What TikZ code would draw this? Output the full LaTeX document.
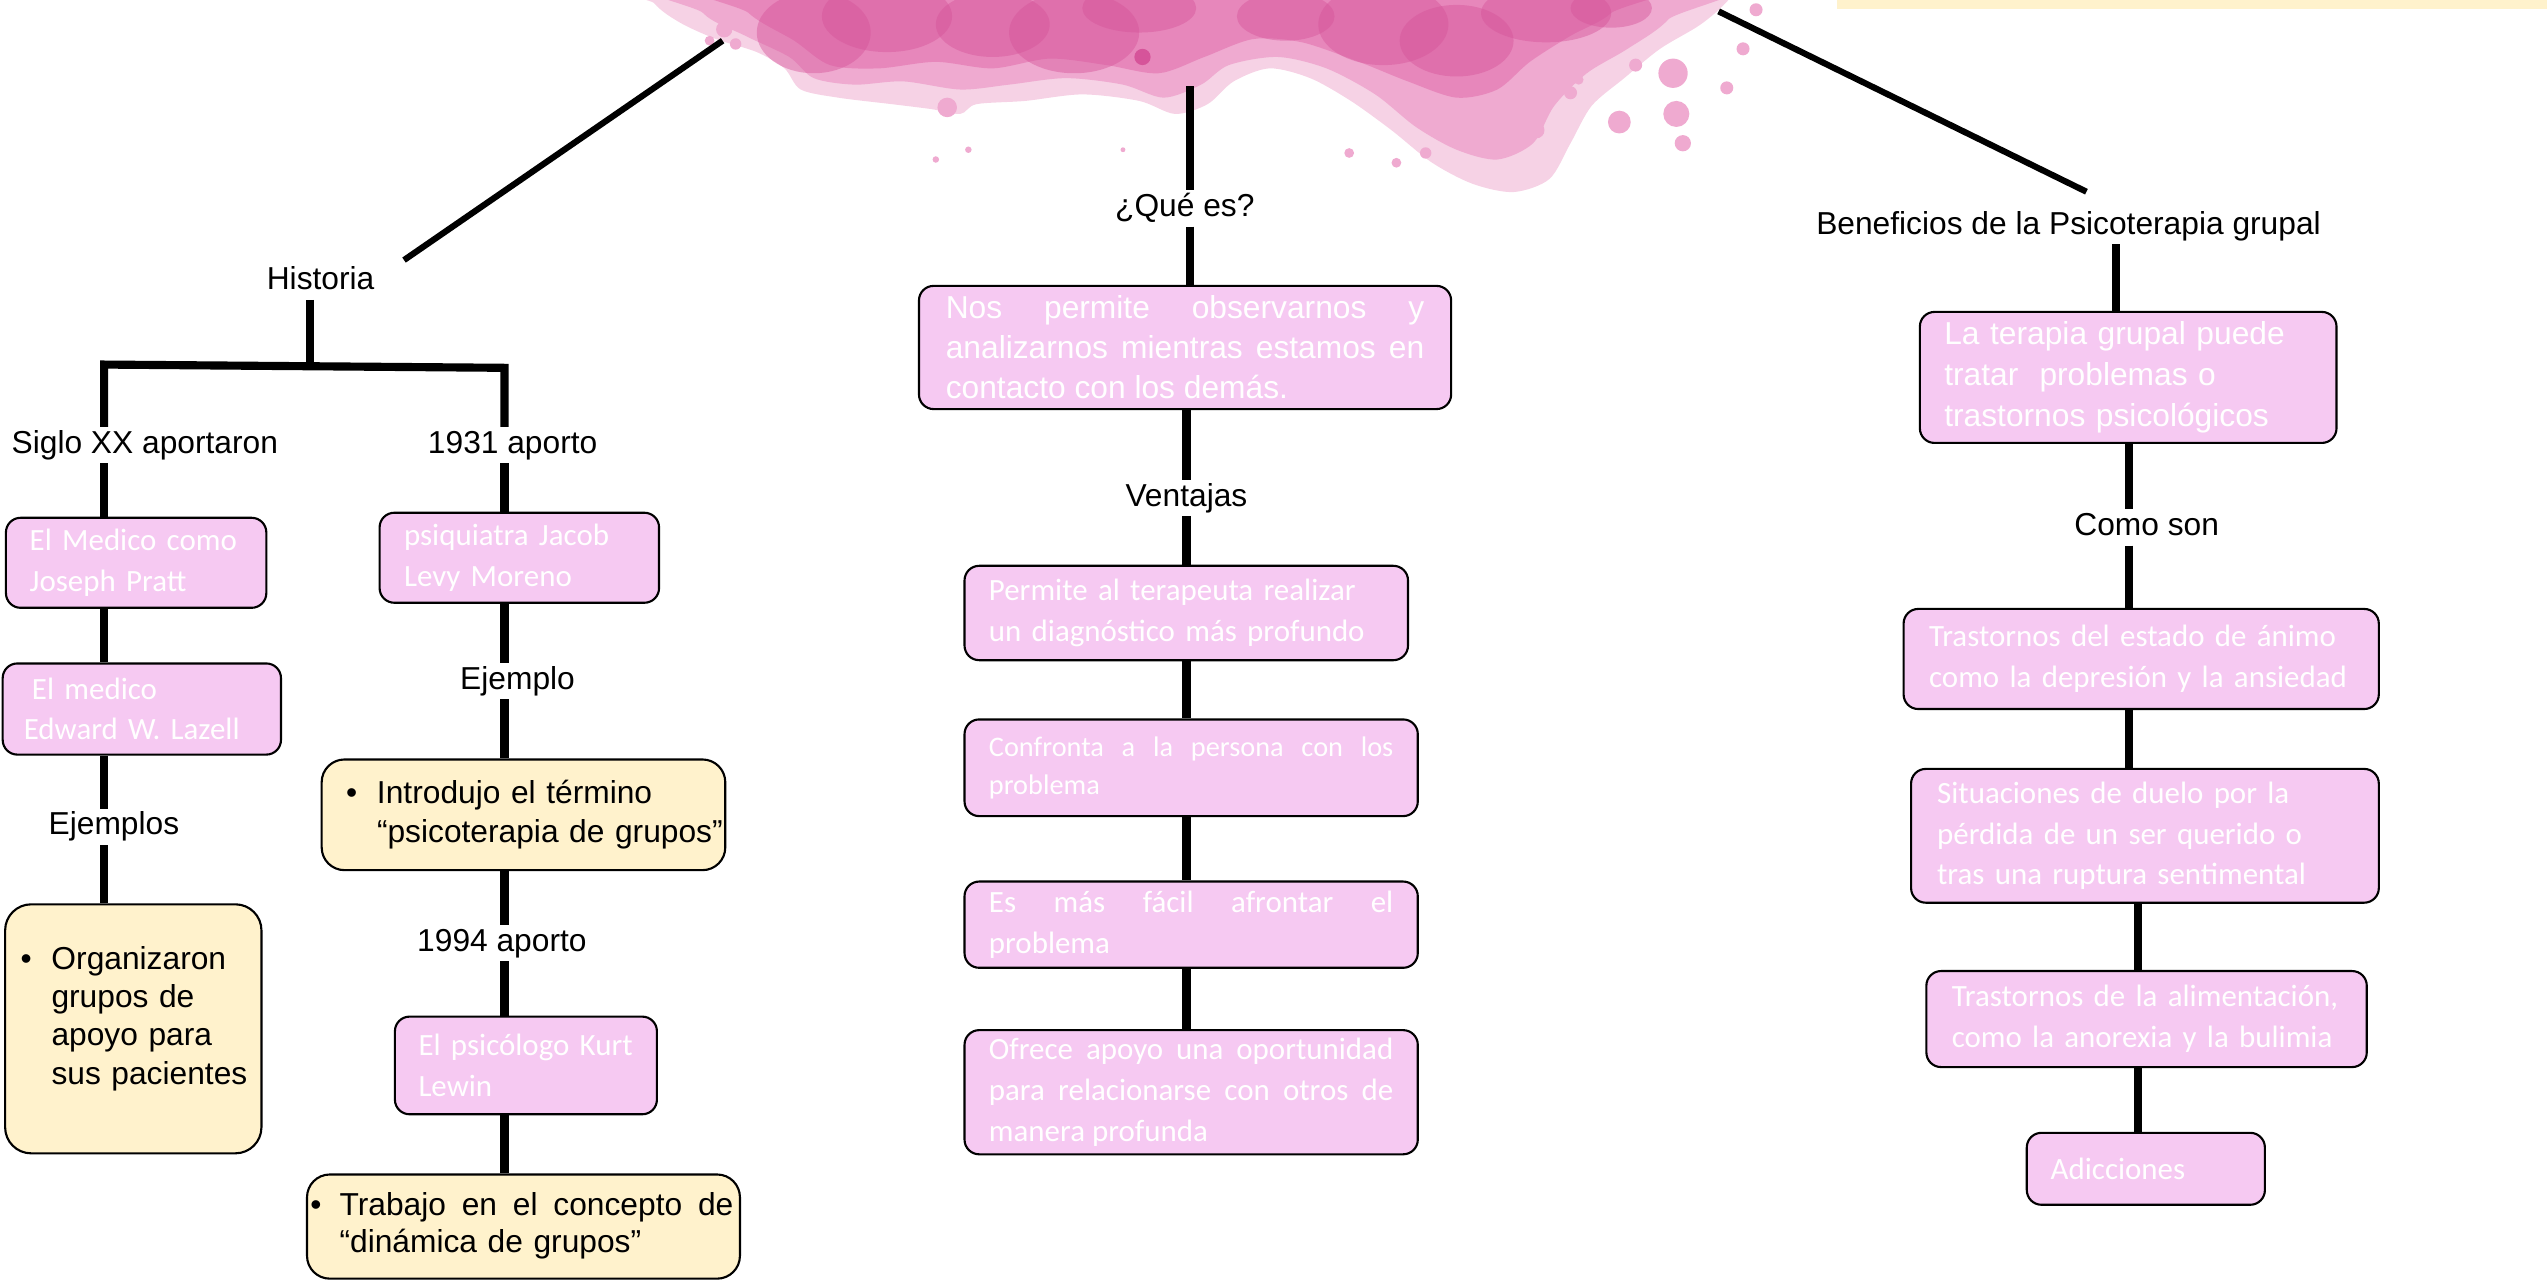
\documentclass[tikz,border=0pt]{standalone}
\usepackage{fontspec}
\setmainfont{Liberation Sans}
\newfontfamily\calib{Carlito}
\definecolor{boxpink}{RGB}{246,201,242}
\definecolor{boxyellow}{RGB}{255,242,204}
\definecolor{blotpale}{RGB}{246,210,229}
\definecolor{blotlight}{RGB}{239,170,208}
\definecolor{blotmid}{RGB}{230,130,184}
\definecolor{blotdark}{RGB}{214,84,154}
\tolerance=10000 \hyphenpenalty=10000 \hbadness=10000
\begin{document}
\begin{tikzpicture}[x=1pt, y=-1pt,
	lbl/.style={font=\fontsize{19.5}{25}\selectfont, anchor=base, inner sep=2pt, text height=14pt, text depth=4pt},
	pbox/.style={draw, line width=1.3pt, fill=boxpink, rounded corners=9pt, text=white, anchor=north west, inner ysep=0pt, align=left, font=\calib\fontsize{19}{25}\selectfont},
	ybox/.style={draw, line width=1.3pt, fill=boxyellow, rounded corners=14pt, anchor=north west, inner ysep=0pt, align=left, font=\fontsize{19.5}{23.5}\selectfont},
	conn/.style={line width=5pt},
	diag/.style={line width=3.8pt}]
	\useasboundingbox (0,0) rectangle (1565,788);
	% mancha rosa
	\begin{scope}
		\clip (0,0) rectangle (1565,788);
		\fill[blotpale] plot[smooth cycle] coordinates {(390,-20) (402,2) (418,14) (440,24) (465,32) (482,42) (492,55) (515,60) (548,64) (572,67) (590,70) (600,64) (630,62) (665,58) (700,62) (722,70) (742,64) (758,50) (780,42) (805,48) (830,62) (855,80) (880,100) (905,113) (930,118) (952,110) (965,88) (978,65) (998,48) (1020,30) (1045,15) (1062,0) (1075,-20)};
		\fill[blotlight] plot[smooth cycle] coordinates {(420,-20) (432,8) (458,22) (485,35) (500,48) (525,52) (555,50) (590,55) (620,52) (655,48) (690,52) (715,60) (738,52) (755,40) (785,35) (815,42) (845,58) (870,78) (895,92) (920,98) (942,88) (955,65) (975,45) (1000,30) (1025,12) (1045,-20)};
		\fill[blotmid, fill opacity=0.85] plot[smooth cycle] coordinates {(440,-20) (460,8) (488,25) (510,40) (540,42) (575,38) (610,42) (645,36) (680,40) (712,45) (740,35) (770,24) (800,26) (835,38) (865,50) (895,60) (920,55) (940,38) (965,22) (990,8) (1010,-20)};
		\foreach \x/\y/\rx/\ry in {500/20/35/25, 545/10/40/22, 610/15/35/20, 660/20/40/25, 700/5/35/15, 790/10/30/15, 850/15/40/25, 895/25/35/22, 950/8/40/18, 990/5/25/12}
			\fill[blotdark, fill opacity=0.45] (\x,\y) ellipse [x radius=\rx, y radius=\ry];
		\foreach \x/\y/\r in {445/18/5, 436/25/3, 452/27/3.5, 582/66/6, 595/92/2, 575/98/2, 690/92/1.5, 829/94/3, 858/100/3, 876/94/3.5, 944/80/5, 965/57/4, 995/75/7, 1030/70/8, 1028/45/9, 1034/88/5, 1061/54/4, 1071/30/4, 1079/6/4, 970/49/3, 1005/40/4}
			\fill[blotlight] (\x,\y) circle (\r);
		\fill[blotdark] (702,35) circle (5);
	\end{scope}
	\fill[boxyellow] (1129,0) rectangle (1565,5.5);
	\coordinate (blotL) at (444,25);
	\coordinate (blotC) at (731,53);
	\coordinate (blotR) at (1056,7);
	% titulos
	\node[lbl] (historia) at (197,178) {Historia};
	\node[lbl] (que) at (728,133) {¿Qué es?};
	\node[lbl] (benef) at (1271,144) {Beneficios de la Psicoterapia grupal};
	% Historia
	\node[lbl] (siglo) at (89,278.5) {Siglo XX aportaron};
	\node[lbl] (aporte31) at (315,278.5) {1931 aporto};
	\node[pbox, minimum width=160pt, minimum height=55.3pt, inner xsep=14.6pt, text width=130.8pt] (medico) at (3,317.5) {El Medico como\\Joseph Pratt};
	\node[pbox, minimum width=171pt, minimum height=56pt, inner xsep=13pt, text width=145pt] (lazell) at (1,407) {\hspace*{5pt}El medico\\Edward W. Lazell};
	\node[lbl] (ejemplos) at (70,513) {Ejemplos};
	\node[ybox, rounded corners=16pt, minimum width=157.5pt, minimum height=153pt, inner xsep=9.5pt, text width=138.5pt] (organiz) at (2.5,555)
		{\begin{tabular}{@{}l@{}l@{}}\makebox[19pt][l]{•}&Organizaron\\&grupos de\\&apoyo para\\&sus pacientes\\[12pt]\end{tabular}};
	\node[pbox, minimum width=171.7pt, minimum height=55.3pt, inner xsep=15pt, text width=141.7pt] (moreno) at (232.6,314.4) {psiquiatra Jacob\\Levy Moreno};
	\node[lbl] (ejemplo) at (318,423.5) {Ejemplo};
	\node[ybox, font=\fontsize{19.5}{24}\selectfont, minimum width=248pt, minimum height=68pt, inner xsep=15pt, text width=218pt] (introd) at (197,466)
		{\begin{tabular}{@{}l@{}l@{}}\makebox[19pt][l]{•}&Introdujo el término\\&“psicoterapia de grupos”\end{tabular}};
	\node[lbl] (aporte94) at (308.4,584.5) {1994 aporto};
	\node[pbox, minimum width=161pt, minimum height=60pt, inner xsep=14.5pt, text width=132pt] (lewin) at (242,624) {\mbox{El psicólogo Kurt}\\Lewin};
	\node[ybox, font=\fontsize{19.5}{23}\selectfont, minimum width=266pt, minimum height=64pt, inner xsep=2pt, text width=262pt] (trabajo) at (188,721)
		{\begin{tabular}{@{}l@{}l@{}}\makebox[18pt][l]{•}&\hbox to 242pt{Trabajo\hfill en\hfill el\hfill concepto\hfill de}\\&“dinámica de grupos”\end{tabular}};
	% Que es
	\node[pbox, font=\fontsize{19.5}{24.6}\selectfont, align=justify, minimum width=327pt, minimum height=75.7pt, inner xsep=16.5pt, text width=294pt] (qes) at (564,175)
		{Nos permite observarnos y\linebreak analizarnos mientras estamos en\linebreak contacto con los demás.};
	\node[lbl] (ventajas) at (729,311) {Ventajas};
	\node[pbox, minimum width=272.5pt, minimum height=58pt, inner xsep=15pt, text width=242.5pt] (permite) at (592,347) {Permite al terapeuta realizar\\un diagnóstico más profundo};
	\node[pbox, font=\calib\fontsize{17.4}{23.2}\selectfont, align=justify, minimum width=278.5pt, minimum height=59.4pt, inner xsep=15pt, text width=248.5pt] (confronta) at (592,441.4)
		{Confronta a la persona con los\linebreak problema};
	\node[pbox, align=justify, minimum width=278.5pt, minimum height=53pt, inner xsep=15pt, text width=248.5pt] (facil) at (592,541)
		{Es más fácil afrontar el\linebreak problema};
	\node[pbox, align=justify, minimum width=278.5pt, minimum height=76.3pt, inner xsep=15pt, text width=248.5pt] (ofrece) at (592,632.3)
		{Ofrece apoyo una oportunidad\linebreak para relacionarse con otros de\linebreak manera profunda};
	% Beneficios
	\node[pbox, font=\fontsize{19.5}{25}\selectfont, minimum width=256pt, minimum height=80.5pt, inner xsep=15pt, text width=226pt] (terapia) at (1179,191)
		{La terapia grupal puede\\tratar~ problemas o\\trastornos psicológicos};
	\node[lbl] (comoson) at (1319,329) {Como son};
	\node[pbox, minimum width=292pt, minimum height=61.5pt, inner xsep=15.7pt, text width=260.6pt] (estado) at (1169,373.5) {\mbox{Trastornos del estado de ánimo}\\\mbox{como la depresión y la ansiedad}};
	\node[pbox, minimum width=287.4pt, minimum height=82.2pt, inner xsep=16pt, text width=255.4pt] (situac) at (1173.6,471.8) {Situaciones de duelo por la\\pérdida de un ser querido o\\tras una ruptura sentimental};
	\node[pbox, minimum width=270.6pt, minimum height=59pt, inner xsep=15.6pt, text width=239.4pt] (aliment) at (1183,596) {\mbox{Trastornos de la alimentación,}\\\mbox{como la anorexia y la bulimia}};
	\node[pbox, minimum width=146.3pt, minimum height=44.2pt, inner xsep=14.7pt, text width=116.9pt] (adicc) at (1244.7,695.4) {Adicciones};
	% conectores
	\coordinate (xh) at (190.5,0);
	\coordinate (xa) at (64,0);
	\coordinate (xb) at (310,0);
	\coordinate (xc) at (729,0);
	\coordinate (xr1) at (1300,0);
	\coordinate (xr2) at (1308,0);
	\coordinate (xr3) at (1313.5,0);
	\coordinate (barL) at (64,224);
	\coordinate (barR) at (310,226);
	\draw[diag] (blotL) -- ([shift={(16,-2)}]historia.north east);
	\draw[diag] (blotR) -- ([shift={(11,-10)}]benef.north);
	\draw[conn] (blotC) -- (blotC |- que.north);
	\draw[conn] (blotC |- que.south) -- (blotC |- qes.north);
	\draw[conn] (xh |- historia.south) -- (xh |- barL);
	\draw[conn] (xa |- siglo.north) -- (barL) -- (barR) -- (xb |- aporte31.north);
	\foreach \a/\b in {siglo/medico, medico/lazell, lazell/ejemplos, ejemplos/organiz}
		\draw[conn] (xa |- \a.south) -- (xa |- \b.north);
	\foreach \a/\b in {aporte31/moreno, moreno/ejemplo, ejemplo/introd, introd/aporte94, aporte94/lewin, lewin/trabajo}
		\draw[conn] (xb |- \a.south) -- (xb |- \b.north);
	\foreach \a/\b in {qes/ventajas, ventajas/permite, permite/confronta, confronta/facil, facil/ofrece}
		\draw[conn] (xc |- \a.south) -- (xc |- \b.north);
	\draw[conn] (xr1 |- benef.south) -- (xr1 |- terapia.north);
	\foreach \a/\b in {terapia/comoson, comoson/estado, estado/situac}
		\draw[conn] (xr2 |- \a.south) -- (xr2 |- \b.north);
	\foreach \a/\b in {situac/aliment, aliment/adicc}
		\draw[conn] (xr3 |- \a.south) -- (xr3 |- \b.north);
\end{tikzpicture}
\end{document}
